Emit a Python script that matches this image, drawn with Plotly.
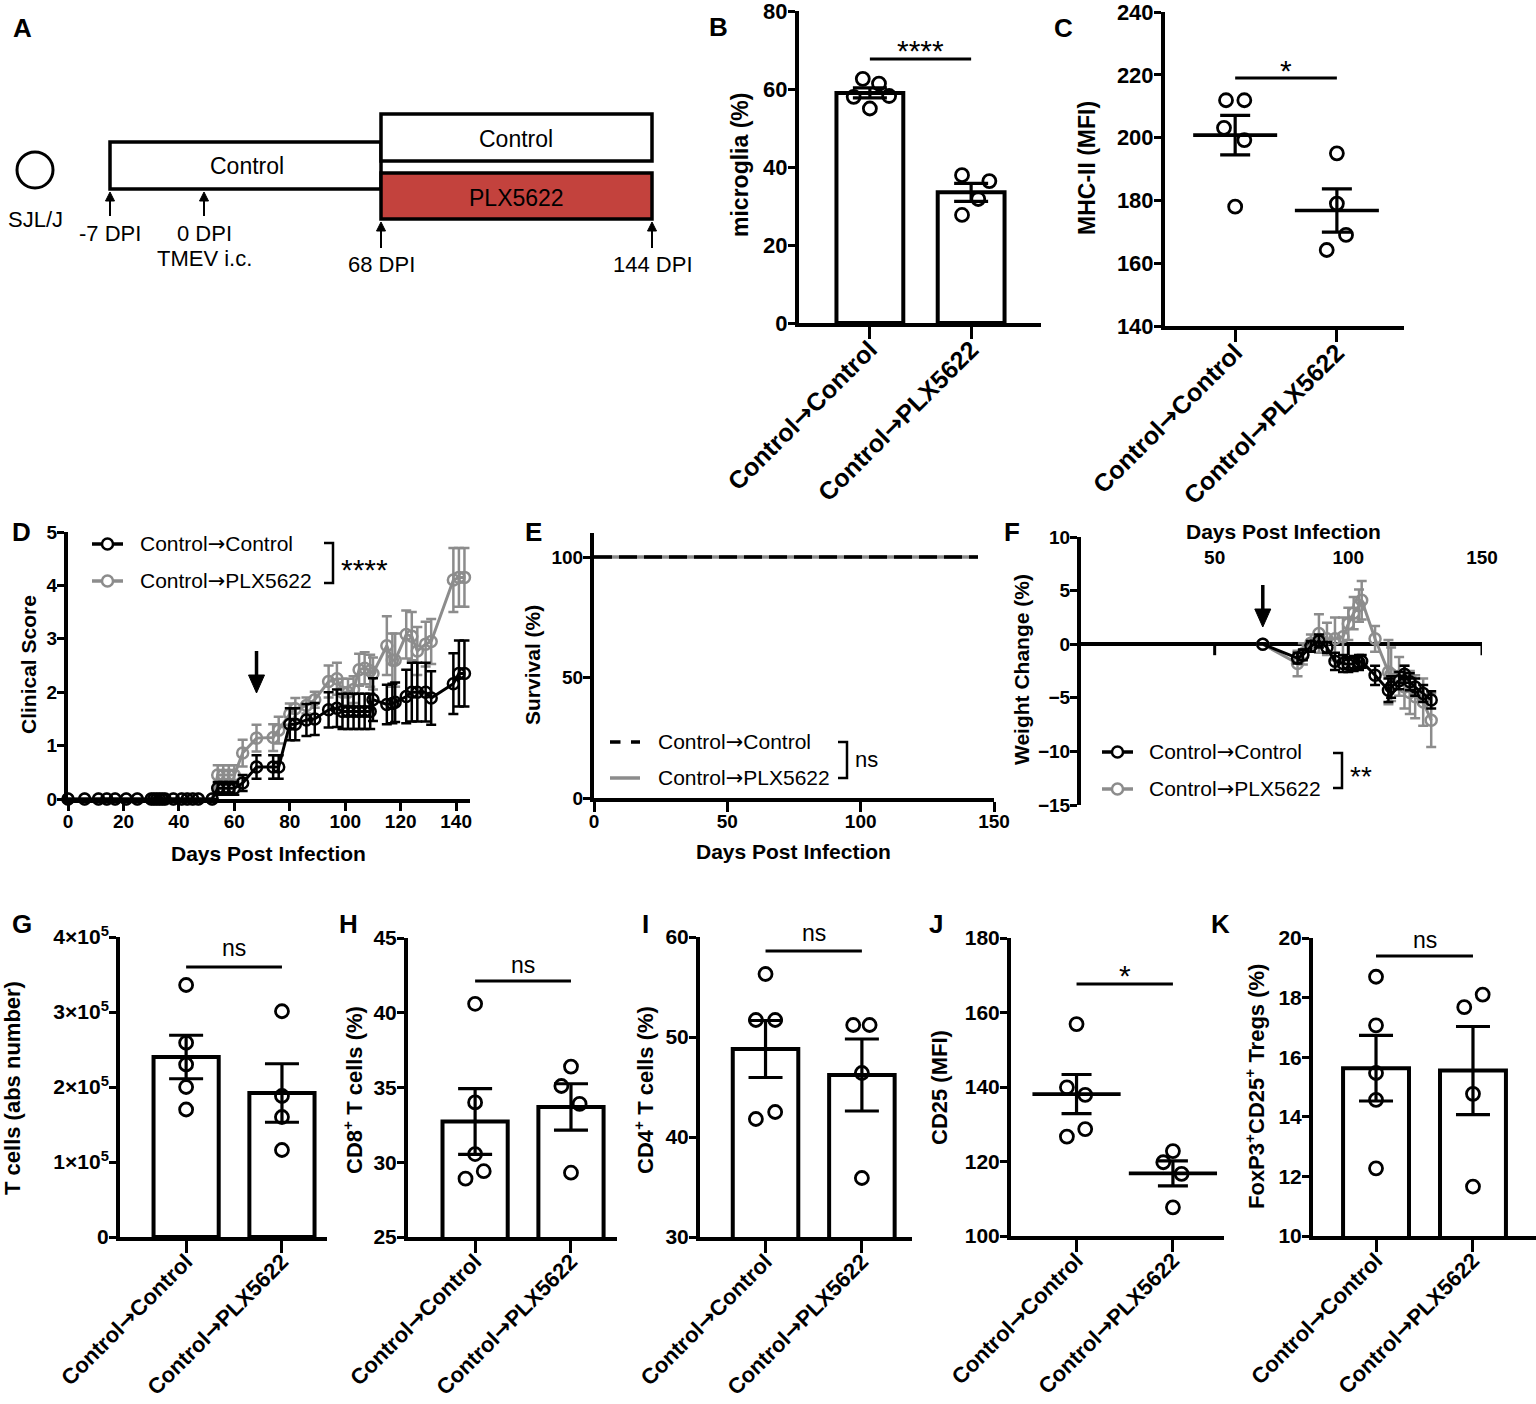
import plotly.graph_objects as go

W, H = 1536, 1404
FONT = 'Liberation Sans, Arial, DejaVu Sans, sans-serif'
GREY = '#8c8c8c'
PLX_RED = '#c3423d'

groups = ['Control→Control', 'Control→PLX5622']

# B: microglia (%)
b_cc = [62.6, 61.4, 58.0, 58.2, 55.0]
b_cp = [37.9, 36.4, 31.8, 27.7]
b_mean = [59.0, 33.5]
b_sem = [1.3, 2.3]

# C: MHC-II (MFI)
c_cc = [211.9, 211.9, 203.1, 199.2, 178.0]
c_cp = [195.0, 179.0, 169.0, 164.2]
c_mean = [200.8, 176.8]
c_sem = [6.3, 6.9]

# D: clinical score
d_days = [0, 6, 11, 14, 17, 21, 25, 30, 31, 32, 33, 34, 35, 38, 41, 43, 45, 47, 52,
          54, 56, 58, 60, 63, 68, 74, 76, 80, 82, 86, 89, 94, 97, 99, 101, 103, 105,
          107, 109, 110, 115, 117, 118, 122, 124, 126, 129, 131, 139, 141, 143]
d_cc = [0] * 19 + [0.2, 0.2, 0.2, 0.2, 0.3, 0.6, 0.6, 0.6, 1.4, 1.4, 1.48, 1.5, 1.67, 1.7,
                   1.64, 1.64, 1.64, 1.64, 1.64, 1.64, 1.86, 1.77, 1.79, 1.81, 1.92, 2.0,
                   2.0, 2.0, 1.89, 2.16, 2.35, 2.35]
d_cc_sem = [0] * 19 + [0.12, 0.12, 0.12, 0.12, 0.15, 0.22, 0.22, 0.22, 0.3, 0.3, 0.3, 0.3,
                       0.33, 0.35, 0.33, 0.33, 0.33, 0.33, 0.33, 0.33, 0.4, 0.37, 0.37,
                       0.37, 0.5, 0.55, 0.55, 0.55, 0.5, 0.57, 0.62, 0.62]
d_cp = [0] * 19 + [0.45, 0.45, 0.45, 0.45, 0.86, 1.14, 1.15, 1.29, 1.59, 1.69, 1.75, 1.86,
                   2.2, 2.25, 2.0, 2.0, 2.05, 2.42, 2.45, 2.4, 2.35, 2.87, 2.6, 2.6, 3.08,
                   3.05, 2.77, 2.9, 2.95, 4.1, 4.15, 4.15]
d_cp_sem = [0] * 19 + [0.18, 0.18, 0.18, 0.18, 0.25, 0.25, 0.25, 0.25, 0.2, 0.2, 0.15, 0.15,
                       0.3, 0.3, 0.25, 0.25, 0.25, 0.3, 0.3, 0.3, 0.3, 0.55, 0.5, 0.5, 0.45,
                       0.45, 0.45, 0.42, 0.42, 0.6, 0.55, 0.55]

# E: survival
e_days = [0, 144]
e_cc = [100, 100]
e_cp = [100, 100]

# F: weight change
f_days = [68, 81, 83, 86, 89, 92, 95, 98, 100, 102, 104, 105, 110, 115, 116, 119, 121,
          123, 125, 128, 131]
f_cc = [0, -1.3, -1.0, -0.2, 0.3, -0.3, -1.6, -1.8, -1.9, -1.8, -1.7, -1.6, -2.9, -4.3,
        -4.0, -3.4, -2.8, -3.5, -4.0, -4.6, -5.2]
f_cc_sem = [0, 0.5, 0.5, 0.5, 0.6, 0.5, 0.8, 0.8, 0.7, 0.7, 0.7, 0.6, 0.9, 1.1, 1.0, 0.8,
            0.8, 0.8, 0.8, 0.8, 0.8]
f_cp = [0, -1.8, -0.9, 0.1, 1.0, 0.5, 0.5, 0.7, 1.9, 2.9, 3.6, 4.1, 0.5, -2.6, -2.8, -3.0,
        -4.0, -4.5, -4.9, -5.4, -7.1]
f_cp_sem = [0, 1.2, 1.0, 0.8, 1.8, 1.5, 2.0, 1.8, 1.5, 1.5, 1.5, 1.8, 1.2, 3.0, 2.5, 1.8,
            2.0, 2.0, 2.0, 2.2, 2.5]

# G: T cells (abs number)
g_cc = [336e3, 259e3, 230e3, 200e3, 170e3]
g_cp = [301e3, 188e3, 160e3, 116e3]
g_mean = [240e3, 192e3]
g_sem = [29e3, 39e3]

# H: CD8+ T cells (%)
h_cc = [40.6, 34.0, 30.55, 28.9, 29.4]
h_cp = [36.4, 35.1, 33.9, 29.3]
h_mean = [32.73, 33.7]
h_sem = [2.2, 1.55]

# I: CD4+ T cells (%)
i_cc = [56.3, 51.7, 51.7, 41.8, 42.5]
i_cp = [51.2, 51.2, 46.4, 35.9]
i_mean = [48.8, 46.2]
i_sem = [2.85, 3.6]

# J: CD25 (MFI)
j_cc = [156.9, 139.9, 137.9, 126.7, 128.7]
j_cp = [122.8, 119.8, 116.7, 107.7]
j_mean = [138.1, 116.8]
j_sem = [5.25, 3.35]

# K: FoxP3+CD25+ Tregs (%)
k_cc = [18.7, 17.07, 15.47, 14.57, 12.27]
k_cp = [18.1, 17.68, 14.77, 11.66]
k_mean = [15.63, 15.55]
k_sem = [1.1, 1.48]

ARROW = '<span style="font-family:DejaVu Sans">→</span>'
labels = [g.replace('→', ARROW) for g in groups]


def px(x):
    return x / W


def py(y):
    return 1 - y / H


def bold(size):
    return dict(family=FONT, size=size, color='black', weight='bold')


def plain(size):
    return dict(family=FONT, size=size, color='black')


fig = go.Figure()
lay = {}
shapes = []
ann = []

common = dict(showline=True, linecolor='black', linewidth=4, tickcolor='black',
              tickwidth=3, showgrid=False, zeroline=False, fixedrange=True,
              automargin=False, ticklabeloverflow='allow')


def names(n):
    return ('xaxis' if n == 1 else f'xaxis{n}', 'yaxis' if n == 1 else f'yaxis{n}',
            'x' if n == 1 else f'x{n}', 'y' if n == 1 else f'y{n}')


def text(x, y, s, font, xanchor='center', angle=0):
    ann.append(dict(x=px(x), y=py(y), xref='paper', yref='paper', text=s, showarrow=False,
                    font=font, xanchor=xanchor, yanchor='middle', textangle=angle))


def arrow(x, tip, tail, head_w, head_l, lw, xref='paper'):
    # vertical arrow drawn with shapes; x in data units if xref is an axis
    d = head_l if tip < tail else -head_l
    if xref == 'paper':
        xv = px(x)
        shapes.append(dict(type='line', xref='paper', yref='paper', x0=xv, x1=xv,
                           y0=py(tail), y1=py(tip + d), line=dict(color='black', width=lw)))
        shapes.append(dict(type='path', xref='paper', yref='paper', fillcolor='black',
                           line=dict(color='black', width=1),
                           path=f'M {px(x - head_w / 2)} {py(tip + d)} L {xv} {py(tip)} '
                                f'L {px(x + head_w / 2)} {py(tip + d)} Z'))
    else:
        shapes.append(dict(type='line', xref=xref, yref='paper', xsizemode='pixel',
                           xanchor=x, x0=0, x1=0, y0=py(tail), y1=py(tip + d),
                           line=dict(color='black', width=lw)))
        shapes.append(dict(type='path', xref=xref, yref='paper', xsizemode='pixel',
                           xanchor=x, fillcolor='black', line=dict(color='black', width=1),
                           path=f'M {-head_w / 2} {py(tip + d)} L 0 {py(tip)} '
                                f'L {head_w / 2} {py(tip + d)} Z'))


def group_panel(n, box, xr, yr, yticks, cc, cp, jcc, jcp, mean, sem, bars=True,
                width=0.68, ticktext_y=None, catsize=22, ysize=21, standoff=-13, meanw=60):
    xk, yk, xa, ya = names(n)
    x0, x1, y0, y1 = box
    if bars:
        fig.add_trace(go.Bar(x=[0, 1], y=mean, width=width,
                             marker=dict(color='white', line=dict(color='black', width=4)),
                             error_y=dict(type='data', array=sem, color='black',
                                          thickness=3.2, width=17),
                             xaxis=xa, yaxis=ya, showlegend=False))
    else:
        fig.add_trace(go.Scatter(x=[0, 1], y=mean, mode='markers',
                                 marker=dict(symbol='line-ew', size=meanw, color='black',
                                             line=dict(color='black', width=3.6)),
                                 error_y=dict(type='data', array=sem, color='black',
                                              thickness=3.2, width=15),
                                 xaxis=xa, yaxis=ya, showlegend=False))
    fig.add_trace(go.Scatter(x=list(jcc) + [1 + j for j in jcp], y=list(cc) + list(cp),
                             mode='markers', cliponaxis=False,
                             marker=dict(symbol='circle-open', size=13, color='black',
                                         line=dict(color='black', width=2.8)),
                             xaxis=xa, yaxis=ya, showlegend=False))
    lay[xk] = dict(domain=[px(x0), px(x1)], range=xr, anchor=ya, tickvals=[0, 1],
                   ticktext=labels, tickangle=-45, ticks='outside', ticklen=12,
                   ticklabelstandoff=standoff, tickfont=bold(catsize), **common)
    ydict = dict(domain=[py(y1), py(y0)], range=yr, anchor=xa, tickvals=yticks,
                 ticks='outside', ticklen=7, ticklabelstandoff=-4,
                 tickfont=bold(ysize), **common)
    if ticktext_y is not None:
        ydict['ticktext'] = ticktext_y
    lay[yk] = ydict
    return xa


def sig(xa, y_line, label, y_text, size=23):
    shapes.append(dict(type='line', xref=xa, yref='paper', x0=0, x1=1, y0=py(y_line),
                       y1=py(y_line), line=dict(color='black', width=3)))
    ann.append(dict(x=0.5, y=py(y_text), xref=xa, yref='paper', text=label,
                    showarrow=False, font=plain(size), yanchor='middle'))


# ---------- A: design diagram ----------
def rect(x0, y0, x1, y1, fill='white'):
    shapes.append(dict(type='rect', xref='paper', yref='paper', x0=px(x0), x1=px(x1),
                       y0=py(y1), y1=py(y0), line=dict(color='black', width=3.5),
                       fillcolor=fill, layer='above'))


shapes.append(dict(type='circle', xref='paper', yref='paper', x0=px(17), x1=px(53),
                   y0=py(188), y1=py(152), line=dict(color='black', width=3)))
rect(110, 142, 381, 189)
rect(381, 114, 652, 161)
rect(381, 173, 652, 219, fill=PLX_RED)
text(247, 166, 'Control', plain(23))
text(516, 139, 'Control', plain(23))
text(516, 198, 'PLX5622', plain(23))
text(35, 219, 'SJL/J', plain(22))
text(110, 234, '-7 DPI', plain(22))
text(204, 234, '0 DPI', plain(22))
text(204, 258, 'TMEV i.c.', plain(22))
text(381, 264, '68 DPI', plain(22))
text(653, 264, '144 DPI', plain(22))
for ax_x, tip, tail in [(110, 192, 216), (204, 192, 216), (381, 222, 248), (652, 222, 248)]:
    arrow(ax_x, tip, tail, 9, 9, 2)

# ---------- B ----------
xb = group_panel(1, (799, 1041, 11, 323), [-0.70, 1.69], [0, 80], [0, 20, 40, 60, 80],
                 b_cc, b_cp, [-0.07, 0.09, -0.16, 0.19, 0.0], [-0.09, 0.18, 0.07, -0.09],
                 b_mean, b_sem, width=0.66, catsize=25, ysize=22, standoff=-14)
sig(xb, 59, '****', 51, size=30)
text(740, 165, 'microglia (%)', bold(23), angle=-90)

# ---------- C ----------
xc = group_panel(2, (1165, 1404, 12, 326), [-0.69, 1.66], [140, 240],
                 [140, 160, 180, 200, 220, 240], c_cc, c_cp,
                 [-0.09, 0.09, -0.11, 0.09, 0.0], [0.0, 0.0, 0.09, -0.1],
                 c_mean, c_sem, bars=False, catsize=25, ysize=22, standoff=-14)
sig(xc, 78, '*', 70, size=30)
text(1087, 168, 'MHC-II (MFI)', bold(23), angle=-90)

# ---------- D: clinical score ----------
fig.add_trace(go.Scatter(x=d_days, y=d_cp, mode='lines+markers', cliponaxis=False,
                         line=dict(color=GREY, width=3),
                         marker=dict(symbol='circle-open', size=11, color=GREY,
                                     line=dict(color=GREY, width=2.5)),
                         error_y=dict(type='data', array=d_cp_sem, color=GREY,
                                      thickness=2.5, width=5),
                         xaxis='x3', yaxis='y3', showlegend=False))
fig.add_trace(go.Scatter(x=d_days, y=d_cc, mode='lines+markers', cliponaxis=False,
                         line=dict(color='black', width=3),
                         marker=dict(symbol='circle-open', size=11, color='black',
                                     line=dict(color='black', width=2.5)),
                         error_y=dict(type='data', array=d_cc_sem, color='black',
                                      thickness=2.5, width=5),
                         xaxis='x3', yaxis='y3', showlegend=False))
lay['xaxis3'] = dict(domain=[px(68), px(470)], range=[0, 145], anchor='y3',
                     tickvals=list(range(0, 141, 20)), ticks='outside', ticklen=8,
                     ticklabelstandoff=-6, tickfont=bold(19), **common)
lay['yaxis3'] = dict(domain=[py(799), py(532)], range=[0, 5], anchor='x3',
                     tickvals=[0, 1, 2, 3, 4, 5], ticks='outside', ticklen=7,
                     ticklabelstandoff=-4, tickfont=bold(19), **common)
text(28, 665, 'Clinical Score', bold(21), angle=-90)
text(268, 853, 'Days Post Infection', bold(21))
arrow(68, 693, 651, 16, 18, 3.5, xref='x3')


def legend_marker(x0, x1, y, color, dash='solid', circle=True):
    shapes.append(dict(type='line', xref='paper', yref='paper', x0=px(x0), x1=px(x1),
                       y0=py(y), y1=py(y), line=dict(color=color, width=3.5, dash=dash)))
    if circle:
        c = (x0 + x1) / 2
        shapes.append(dict(type='circle', xref='paper', yref='paper', x0=px(c - 5.5),
                           x1=px(c + 5.5), y0=py(y + 5.5), y1=py(y - 5.5),
                           fillcolor='white', line=dict(color=color, width=2.5)))


def bracket(x, y0, y1, label, ly, size=22):
    shapes.append(dict(type='path', xref='paper', yref='paper',
                       path=f'M {px(x - 9)} {py(y0)} L {px(x)} {py(y0)} L {px(x)} {py(y1)} '
                            f'L {px(x - 9)} {py(y1)}',
                       line=dict(color='black', width=2.5)))
    text(x + 6, ly, label, plain(size), xanchor='left')


legend_marker(92, 123, 544, 'black')
legend_marker(92, 123, 581, GREY)
text(138, 544, labels[0], plain(21), xanchor='left')
text(138, 581, labels[1], plain(21), xanchor='left')
bracket(333, 543, 583, '****', 569, size=30)

# ---------- E: survival ----------
fig.add_trace(go.Scatter(x=e_days, y=e_cp, mode='lines', line=dict(color=GREY, width=3.5),
                         cliponaxis=False, xaxis='x4', yaxis='y4', showlegend=False))
fig.add_trace(go.Scatter(x=e_days, y=e_cc, mode='lines',
                         line=dict(color='black', width=3.5, dash='18px,7px'),
                         cliponaxis=False, xaxis='x4', yaxis='y4', showlegend=False))
lay['xaxis4'] = dict(domain=[px(594), px(994)], range=[0, 150], anchor='y4',
                     tickvals=[0, 50, 100, 150], ticks='outside', ticklen=10,
                     ticklabelstandoff=-7, tickfont=bold(19), **common)
lay['yaxis4'] = dict(domain=[py(798), py(533)], range=[0, 110], anchor='x4',
                     tickvals=[0, 50, 100], ticks='outside', ticklen=7,
                     ticklabelstandoff=-4, tickfont=bold(19), **common)
text(532, 665, 'Survival (%)', bold(21), angle=-90)
text(793, 852, 'Days Post Infection', bold(21))
legend_marker(610, 640, 742, 'black', dash='dash', circle=False)
legend_marker(610, 640, 778, GREY, circle=False)
text(656, 742, labels[0], plain(21), xanchor='left')
text(656, 778, labels[1], plain(21), xanchor='left')
bracket(847, 742, 778, 'ns', 759)

# ---------- F: weight change ----------
fig.add_trace(go.Scatter(x=f_days, y=f_cp, mode='lines+markers', cliponaxis=False,
                         line=dict(color=GREY, width=3),
                         marker=dict(symbol='circle-open', size=11, color=GREY,
                                     line=dict(color=GREY, width=2.5)),
                         error_y=dict(type='data', array=f_cp_sem, color=GREY,
                                      thickness=2.5, width=5),
                         xaxis='x5', yaxis='y5', showlegend=False))
fig.add_trace(go.Scatter(x=f_days, y=f_cc, mode='lines+markers', cliponaxis=False,
                         line=dict(color='black', width=3),
                         marker=dict(symbol='circle-open', size=11, color='black',
                                     line=dict(color='black', width=2.5)),
                         error_y=dict(type='data', array=f_cc_sem, color='black',
                                      thickness=2.5, width=5),
                         xaxis='x5', yaxis='y5', showlegend=False))
f_ticks = [50, 100, 150]
lay['xaxis5'] = dict(domain=[px(1081), px(1482)], range=[0, 150], anchor='free',
                     position=py(568), side='top', showline=False, ticks='',
                     tickvals=f_ticks, tickfont=bold(19), showgrid=False, zeroline=False,
                     fixedrange=True, automargin=False)
lay['yaxis5'] = dict(domain=[py(805), py(537)], range=[-15, 10], anchor='x5',
                     tickvals=[-15, -10, -5, 0, 5, 10], ticks='outside', ticklen=7,
                     ticklabelstandoff=-4, tickfont=bold(19), showline=True,
                     linecolor='black', linewidth=4, tickcolor='black', tickwidth=3,
                     showgrid=False, zeroline=True, zerolinecolor='black',
                     zerolinewidth=3.5, fixedrange=True, automargin=False,
                     ticklabeloverflow='allow')
for t in f_ticks:
    shapes.append(dict(type='line', xref='x5', yref='y5', x0=t, x1=t, ysizemode='pixel',
                       yanchor=0, y0=0, y1=-11, line=dict(color='black', width=3)))
text(1283, 531, 'Days Post Infection', bold(21))
text(1022, 670, 'Weight Change (%)', bold(21), angle=-90)
arrow(68, 627, 585, 16, 18, 3.5, xref='x5')
legend_marker(1102, 1133, 752, 'black')
legend_marker(1102, 1133, 789, GREY)
text(1147, 752, labels[0], plain(21), xanchor='left')
text(1147, 789, labels[1], plain(21), xanchor='left')
bracket(1342, 753, 788, '**', 776, size=28)

# ---------- G..K ----------
xg = group_panel(6, (120, 327, 937, 1237), [-0.69, 1.47], [0, 4e5],
                 [0, 1e5, 2e5, 3e5, 4e5], g_cc, g_cp, [0, 0, 0, 0, 0], [0, 0, 0, 0],
                 g_mean, g_sem,
                 ticktext_y=['0', '1×10<sup>5</sup>', '2×10<sup>5</sup>',
                             '3×10<sup>5</sup>', '4×10<sup>5</sup>'])
sig(xg, 967, 'ns', 948)
text(12, 1088, 'T cells (abs number)', bold(22), angle=-90)

xh = group_panel(7, (408, 617, 938, 1237), [-0.70, 1.48], [25, 45], [25, 30, 35, 40, 45],
                 h_cc, h_cp, [0, 0, 0, -0.10, 0.09], [0, -0.10, 0.09, 0], h_mean, h_sem)
sig(xh, 981, 'ns', 965)
text(353, 1090, 'CD8<sup>+</sup> T cells (%)', bold(22), angle=-90)

xi = group_panel(8, (700, 912, 937, 1237), [-0.68, 1.52], [30, 60], [30, 40, 50, 60],
                 i_cc, i_cp, [0, -0.10, 0.10, -0.10, 0.10], [-0.09, 0.08, 0, 0],
                 i_mean, i_sem)
sig(xi, 951, 'ns', 933)
text(644, 1090, 'CD4<sup>+</sup> T cells (%)', bold(22), angle=-90)

xj = group_panel(9, (1011, 1224, 938, 1236), [-0.68, 1.53], [100, 180],
                 [100, 120, 140, 160, 180], j_cc, j_cp, [0, -0.10, 0.09, -0.10, 0.09],
                 [0, -0.10, 0.09, 0], j_mean, j_sem, bars=False, meanw=63)
sig(xj, 984, '*', 975, size=30)
text(939, 1088, 'CD25 (MFI)', bold(22), angle=-90)

xk = group_panel(10, (1313, 1536, 938, 1236), [-0.65, 1.65], [10, 20],
                 [10, 12, 14, 16, 18, 20], k_cc, k_cp, [0, 0, 0, 0, 0],
                 [0.10, -0.09, 0, 0], k_mean, k_sem)
sig(xk, 956, 'ns', 940)
text(1255, 1087, 'FoxP3<sup>+</sup>CD25<sup>+</sup> Tregs (%)', bold(22), angle=-90)

# panel letters
for letter, lx, ly in [('A', 22, 28), ('B', 718, 27), ('C', 1063, 28), ('D', 21, 532),
                       ('E', 533, 532), ('F', 1012, 532), ('G', 22, 924), ('H', 348, 924),
                       ('I', 645, 924), ('J', 936, 924), ('K', 1220, 924)]:
    text(lx, ly, letter, bold(26))

fig.update_layout(width=W, height=H, margin=dict(l=0, r=0, t=0, b=0, autoexpand=False),
                  paper_bgcolor='white', plot_bgcolor='white', showlegend=False,
                  shapes=shapes, annotations=ann, **lay)

fig.write_html('out.html', config={'displayModeBar': False},
               post_script="document.body.style.margin='0';")
